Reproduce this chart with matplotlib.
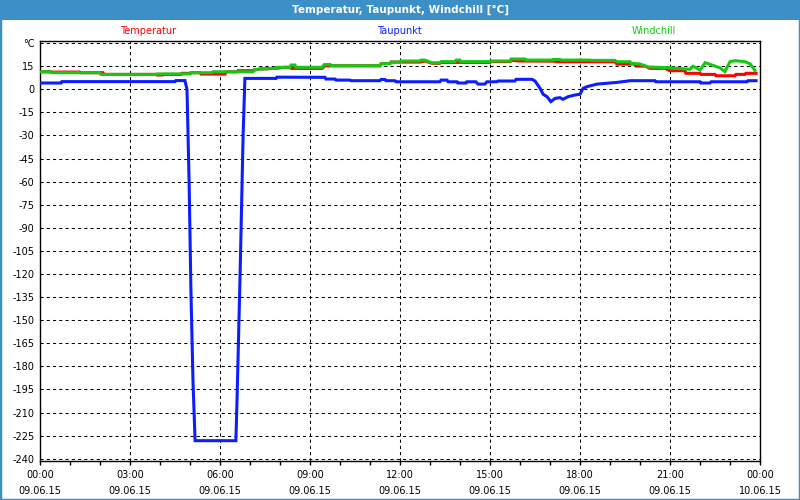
import matplotlib
matplotlib.use("Agg")
import matplotlib.pyplot as plt
from matplotlib.patches import Rectangle

plt.rcParams['font.family'] = ['DejaVu Sans']

# ---- data (hours since 09.06.15 00:00, values in °C) ----
tau_h = [0, 0.70, 0.73, 4.5, 4.53, 4.83, 4.9, 4.97, 5.03, 5.1, 5.17, 6.53, 6.57, 6.67, 6.77, 6.83,
         7.87, 7.9, 9.5, 9.53, 9.83, 9.87, 10.33, 10.37, 11.33, 11.37, 11.5, 11.53, 11.83, 11.87,
         13.33, 13.37, 13.57, 13.6, 13.9, 13.93, 14.2, 14.23, 14.53, 14.6, 14.83, 14.9, 15.23, 15.27,
         15.83, 15.87, 16.4, 16.5, 16.67, 16.77, 16.9, 17.03, 17.17, 17.33, 17.43, 17.6, 17.83, 18.0,
         18.1, 18.23, 18.57, 19.23, 19.67, 20.5, 20.53, 22.0, 22.03, 22.33, 22.37, 23.57, 23.6, 23.87]
tau_v = [4.1, 4.1, 5.0, 5.0, 5.7, 5.7, 0, -60, -130, -190, -228.3, -228.3, -200, -120, -30, 7.1,
         7.1, 7.9, 7.8, 6.7, 6.7, 6.0, 6.0, 5.6, 5.6, 6.4, 6.4, 5.6, 5.6, 4.9,
         4.9, 6.0, 6.0, 4.9, 4.9, 4.1, 4.1, 4.9, 4.9, 3.4, 3.4, 4.9, 4.9, 5.4,
         5.4, 6.5, 6.5, 5.4, 0.6, -3.2, -4.8, -8.0, -5.9, -5.4, -6.5, -4.8, -3.7, -3.2,
         0.6, 1.7, 3.4, 4.5, 5.6, 5.6, 4.9, 4.9, 4.1, 4.1, 4.9, 4.9, 5.6, 5.6]

temp_h = [0, 0.37, 0.4, 1.33, 1.37, 2.1, 2.13, 3.87, 3.9, 4.1, 4.13, 4.7, 4.73, 5.0, 5.03, 5.33,
          5.37, 6.17, 6.2, 6.57, 6.6, 7.1, 7.13, 7.33, 7.83, 8.17, 8.33, 8.37, 9.4, 9.5, 11.33,
          11.37, 11.67, 11.7, 12.67, 12.83, 13.07, 13.33, 13.37, 15.0, 15.03, 15.67, 15.73, 16.0,
          17.17, 17.2, 19.17, 19.23, 19.83, 19.87, 20.17, 20.33, 20.83, 21.0, 21.5, 21.53, 22.0,
          22.03, 22.5, 22.53, 23.17, 23.2, 23.5, 23.53, 23.87]
temp_v = [11.4, 11.4, 11.2, 11.2, 10.8, 10.8, 9.7, 9.7, 9.3, 9.3, 9.7, 9.7, 10.4, 10.4, 10.8, 10.8,
          9.9, 9.9, 11.4, 11.4, 12.1, 12.1, 12.5, 13.2, 13.6, 14.3, 14.3, 13.6, 13.6, 15.3, 15.3,
          16.7, 16.7, 17.7, 17.7, 18.4, 16.9, 16.9, 17.5, 17.5, 18.0, 18.0, 18.8, 18.4,
          18.3, 17.9, 17.9, 16.4, 16.4, 15.1, 15.1, 13.6, 13.6, 12.1, 12.1, 10.4, 10.4,
          9.7, 9.7, 8.8, 8.8, 9.7, 9.7, 10.4, 10.4]

wind_h = [0, 0.37, 0.4, 2.0, 2.03, 3.87, 3.9, 5.0, 5.03, 5.73, 5.77, 7.1, 7.13, 7.33, 7.83, 7.87,
          8.33, 8.37, 8.5, 8.53, 9.4, 9.47, 9.67, 9.7, 11.33, 11.37, 11.67, 11.7, 12.0, 12.03, 12.67,
          12.7, 12.83, 13.07, 13.33, 13.37, 13.83, 13.87, 14.0, 14.03, 15.0, 15.03, 15.67, 15.7,
          16.17, 16.2, 17.07, 17.1, 17.33, 17.37, 18.33, 18.37, 19.17, 19.23, 19.67, 19.7, 20.0,
          20.27, 21.0, 21.67, 21.77, 22.0, 22.17, 22.4, 22.67, 22.83, 23.0, 23.17, 23.5, 23.67, 23.83]
wind_v = [11.4, 11.4, 10.8, 10.8, 9.7, 9.7, 10.0, 10.0, 10.8, 10.8, 11.4, 11.4, 12.5, 13.2, 13.6, 14.3,
          14.3, 15.8, 15.8, 14.3, 14.3, 16.0, 16.2, 15.3, 15.3, 16.7, 16.7, 17.7, 17.7, 18.4, 18.4,
          19.0, 19.0, 17.2, 17.2, 18.0, 18.0, 19.0, 19.0, 18.0, 18.0, 18.4, 18.4, 19.7,
          19.7, 19.0, 19.0, 19.4, 19.4, 19.0, 19.0, 18.8, 18.8, 17.9, 17.9, 16.9, 16.5,
          14.5, 14.0, 13.0, 15.0, 12.5, 17.3, 15.8, 13.9, 11.5, 18.0, 18.6, 18.0, 16.5, 12.3]

series_names = ["Temperatur", "Taupunkt", "Windchill"]
y_ticks = list(range(-240, 31, 15))
x_ticks = [0, 3, 6, 9, 12, 15, 18, 21, 24]
x_labels = ["00:00\n09.06.15", "03:00\n09.06.15", "06:00\n09.06.15", "09:00\n09.06.15",
            "12:00\n09.06.15", "15:00\n09.06.15", "18:00\n09.06.15", "21:00\n09.06.15",
            "00:00\n10.06.15"]
title = "Temperatur, Taupunkt, Windchill [°C]"

# ---- figure ----
W, H = 800, 500
fig = plt.figure(figsize=(8, 5), dpi=100)
fig.patch.set_facecolor('white')
bar_col = '#3d8fc7'
fig.patches.append(Rectangle((0, 1 - 20 / H), 1, 20 / H, transform=fig.transFigure,
                             facecolor=bar_col, edgecolor='none', zorder=0))
fig.patches.append(Rectangle((0, 0), 1, 1, transform=fig.transFigure, fill=False,
                             edgecolor=bar_col, lw=2.5, zorder=1))
fig.text(0.5, 1 - 10 / H, title, color='white', fontsize=7.5, fontweight='bold',
         ha='center', va='center')

ax = fig.add_axes([40 / W, 1 - 460.7 / H, 720 / W, (460.7 - 41) / H])
ax.set_facecolor('white')

lw = 2.2
ax.plot(temp_h, temp_v, color='#ff0000', lw=lw, zorder=3, solid_joinstyle='miter')
ax.plot(tau_h, tau_v, color='#0a1eff', lw=lw, zorder=3, solid_joinstyle='miter')
ax.plot(wind_h, wind_v, color='#14c814', lw=lw, zorder=4, solid_joinstyle='miter')

ax.set_xlim(0, 24)
ax.set_ylim(-241.3, 31.4)
ax.set_yticks(y_ticks)
ax.set_yticklabels([str(v) if v != 30 else '°C' for v in y_ticks])
ax.set_xticks(x_ticks)
ax.set_xticklabels(x_labels, linespacing=1.75)
ax.set_xticks(range(0, 25), minor=True)
ax.tick_params(axis='y', length=0, pad=4, labelsize=7)
ax.tick_params(axis='x', which='both', length=3, width=1, direction='out', pad=4,
               labelsize=7)
ax.grid(True, color='black', lw=0.75, linestyle=(0, (3, 3)))
for s in ax.spines.values():
    s.set_color('black')
    s.set_linewidth(1.0)

colors = ['#ff0000', '#0a1eff', '#14c814']
xs = [120, 377, 632]
for name, c, x in zip(series_names, colors, xs):
    fig.text(x / W, 1 - 31 / H, name, color=c, fontsize=7, ha='left', va='center')

fig.savefig('out.png', dpi=100)
